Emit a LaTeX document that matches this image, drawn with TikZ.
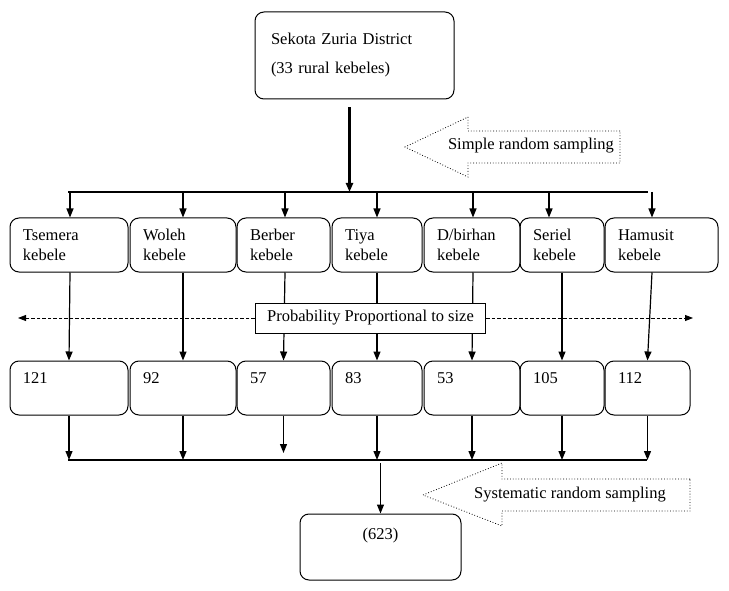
\documentclass[tikz,border=0pt]{standalone}
\usepackage{fontspec}
\setmainfont{Liberation Serif}
\usetikzlibrary{arrows.meta}
\tikzset{
    box/.style={draw, rounded corners=9pt, line width=1pt, align=left,
        font=\fontsize{16.5}{20}\selectfont},
    pfeil/.style={-{Triangle[length=9pt,width=7pt]}, line width=1.2pt},
    balken/.style={line width=2.4pt},
    punkte/.style={dotted, line width=0.8pt},
    strich/.style={dash pattern=on 3.5pt off 2pt, line width=0.9pt,
        -{Triangle[length=8pt,width=6pt]}}
}
\begin{document}
\begin{tikzpicture}[x=1pt,y=-1pt]
        \useasboundingbox (0,0) rectangle (729,591);
        % Bezirk
        \node[box, inner xsep=16pt, text width=167pt, minimum height=87pt]
            (district) at (354.5,55.5) {Sekota Zuria District\\[9pt](33 rural kebeles)};
        \coordinate (topl) at (68,192);
        \coordinate (topr) at (648,192);
        \draw[balken] (topl) -- (topr);
        \draw[pfeil, line width=2.4pt, shorten <=8pt] ([xshift=-5pt]district.south)
            -- ([xshift=-5pt]district.south |- topl);
        % Kebeles
        \foreach \i/\xl/\xr/\name in {1/10/128/Tsemera, 2/130/236/Woleh,
                                      3/237/330/Berber, 4/332/422/Tiya,
                                      5/424/520/{D/birhan}, 6/520/604/Seriel,
                                      7/605/718/Hamusit}{
            \pgfmathsetmacro{\xc}{(\xl+\xr)/2}
            \pgfmathsetmacro{\tw}{\xr-\xl-26}
            \node[box, inner xsep=13pt, text width=\tw pt, minimum height=54pt]
                (k\i) at (\xc,245) {\name\\kebele};
        }
        % Anzahl je Kebele
        \foreach \i/\xl/\xr/\num in {1/10/128/121, 2/130/236/92, 3/237/330/57,
                                     4/332/422/83, 5/424/520/53, 6/520/604/105,
                                     7/605/690/112}{
            \pgfmathsetmacro{\xc}{(\xl+\xr)/2}
            \pgfmathsetmacro{\tw}{\xr-\xl-26}
            \node[box, inner xsep=13pt, text width=\tw pt, minimum height=54pt]
                (n\i) at (\xc,388) {\num\\~};
        }
        \coordinate (botl) at (68,460);
        \coordinate (botr) at (647,460);
        \draw[balken] (botl) -- (botr);
        % Pfeile
        \foreach \i/\dx/\dm/\sb in {1/1/1/0, 2/0/0/0, 3/1.5/1.5/7, 4/0/0/0,
                                    5/1/1/0, 6/-13/0/0, 7/-9.5/-9.5/0}{
            \path ([xshift=\dx pt]k\i.north) coordinate (a\i);
            \draw[pfeil] (a\i |- topl) -- (a\i);
            \draw[pfeil] ([xshift=\dm pt]k\i.south) -- (n\i.north);
            \draw[pfeil, shorten >=\sb pt] (n\i.south) -- (n\i.south |- botl);
        }
        % PPS
        \node[draw, fill=white, line width=0.8pt, inner xsep=12pt, minimum height=30pt,
            font=\fontsize{16.5}{20}\selectfont] (pps) at (370.5,318)
            {Probability Proportional to size};
        \coordinate (ppl) at (18,318);
        \coordinate (ppr) at (693,318);
        \draw[strich] (pps.west) -- (ppl);
        \draw[strich] (pps.east) -- (ppr);
        % Stichprobe
        \node[box, align=center, minimum width=161pt, minimum height=66pt]
            (total) at (380.5,547) {(623)\\[6pt]~};
        \draw[pfeil, shorten <=3pt] (total.north |- botl) -- (total.north);
        % Auswahlpfeile
        \node[font=\fontsize{16.5}{20}\selectfont] (srs) at (531,146) {Simple random sampling};
        \draw[punkte] (620,131) -- (468,131) -- (468,117) -- (405,147)
            -- (468,177) -- (468,163) -- (620,163) -- cycle;
        \node[font=\fontsize{16.5}{20}\selectfont] (sys) at (570,495) {Systematic random sampling};
        \draw[punkte] (690,479) -- (502,479) -- (502,463) -- (423,495)
            -- (502,526) -- (502,511) -- (690,511) -- cycle;
\end{tikzpicture}
\end{document}
